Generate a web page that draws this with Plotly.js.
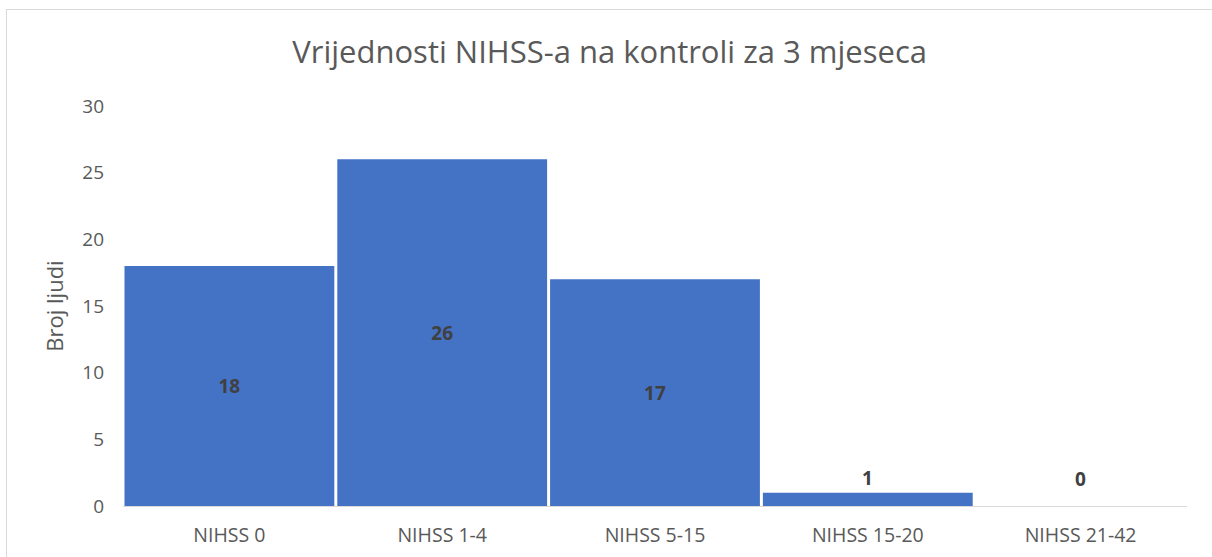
<!DOCTYPE html>
<html>
<head>
<meta charset="utf-8">
<script src="https://cdn.plot.ly/plotly-3.0.1.min.js"></script>
<style>
html,body{margin:0;padding:0;background:#fff;}
#chart{width:1212px;height:557px;}
#frame{position:absolute;left:6px;top:9px;width:1220px;height:600px;border-top:1px solid #d9d9d9;border-left:1px solid #d9d9d9;pointer-events:none;}
</style>
</head>
<body>
<div id="chart"></div>
<div id="frame"></div>
<script>
const categories = ["NIHSS 0", "NIHSS 1-4", "NIHSS 5-15", "NIHSS 15-20", "NIHSS 21-42"];
const values = [18, 26, 17, 1, 0];
const yTicks = [0, 5, 10, 15, 20, 25, 30];

const lblFont = {family: 'Open Sans, sans-serif', size: 19, color: '#404040', weight: 'bold'};
const isInside = v => v >= 3;

const trace = {
  type: 'bar',
  x: categories,
  y: values,
  text: values.map(v => isInside(v) ? String(v) : ''),
  textposition: 'inside',
  insidetextanchor: 'middle',
  cliponaxis: false,
  textfont: lblFont,
  insidetextfont: lblFont,
  constraintext: 'none',
  marker: {color: '#4472C4'},
  hoverinfo: 'x+y'
};

const outsideAnnotations = [];
categories.forEach((c, i) => {
  const v = values[i];
  if (!isInside(v)) {
    outsideAnnotations.push({
      x: c, y: v, xref: 'x', yref: 'y',
      text: String(v), showarrow: false,
      yanchor: 'bottom', yshift: v === 0 ? 12 : 0,
      font: lblFont
    });
  }
});

const layout = {
  width: 1212,
  height: 557,
  margin: {l: 123, r: 25, t: 106, b: 51},
  paper_bgcolor: '#ffffff',
  plot_bgcolor: '#ffffff',
  font: {family: 'Open Sans, sans-serif', color: '#595959'},
  title: {
    text: 'Vrijednosti NIHSS-a na kontroli za 3 mjeseca',
    font: {size: 31, color: '#595959', family: 'Open Sans, sans-serif'},
    x: 0.503, xanchor: 'center',
    y: 0.906, yanchor: 'middle'
  },
  bargap: 0.014,
  showlegend: false,
  annotations: outsideAnnotations,
  xaxis: {
    type: 'category',
    showline: true,
    linecolor: '#d9d9d9',
    linewidth: 1,
    showgrid: false,
    ticks: '',
    ticklabelstandoff: 12,
    tickfont: {size: 19.5, color: '#595959'},
    fixedrange: true
  },
  yaxis: {
    range: [0, 30],
    tickvals: yTicks,
    ticktext: yTicks.map(String),
    showgrid: false,
    zeroline: false,
    showline: false,
    ticks: '',
    ticklabelstandoff: 18,
    tickfont: {size: 19, color: '#595959'},
    title: {text: 'Broj ljudi', font: {size: 22, color: '#595959'}, standoff: 12},
    fixedrange: true
  }
};

Plotly.newPlot('chart', [trace], layout, {displayModeBar: false, staticPlot: true});
</script>
</body>
</html>
